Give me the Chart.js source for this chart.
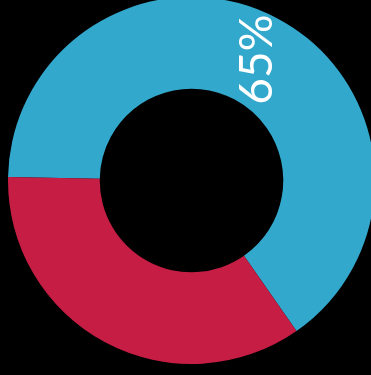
<!DOCTYPE html>
<html>
<head>
<meta charset="utf-8">
<script src="https://cdn.jsdelivr.net/npm/chart.js@4"></script>
<style>
  html, body { margin: 0; padding: 0; background: #000; overflow: hidden; }
  body { width: 371px; height: 375px; position: relative; }
  #wrap { position: absolute; left: 8px; top: -3px; width: 367px; height: 367px; }
</style>
</head>
<body>
<div id="wrap"><canvas id="share-chart" width="367" height="367"></canvas></div>
<script>
var categories = ["Yes", "No"];
var shares = [65, 35];
var colors = ["#33a8cd", "#c61d44"];

// white percentage label, set upright across the ring near the top right
var shareLabel = {
  id: "shareLabel",
  afterDatasetsDraw: function (chart) {
    var arc = chart.getDatasetMeta(0).data[0];
    var r = (arc.innerRadius + arc.outerRadius) / 2;
    var a = 28.5 * Math.PI / 180;
    var x = arc.x + r * Math.sin(a);
    var y = arc.y - r * Math.cos(a);
    var c = chart.ctx;
    c.save();
    c.translate(x, y);
    c.rotate(-Math.PI / 2);
    c.fillStyle = "#ffffff";
    c.font = "400 46px Lato";
    c.textAlign = "center";
    c.textBaseline = "middle";
    c.fillText(shares[0] + "%", 0, 0);
    c.restore();
  },
};

new Chart(document.getElementById("share-chart").getContext("2d"), {
  type: "doughnut",
  data: {
    labels: categories,
    datasets: [
      {
        data: shares,
        backgroundColor: colors,
        borderWidth: 0,
      },
    ],
  },
  options: {
    responsive: false,
    animation: false,
    rotation: -88.9,
    cutout: "50%",
    layout: { padding: 0 },
    plugins: {
      legend: { display: false },
      tooltip: { enabled: false },
    },
  },
  plugins: [shareLabel],
});
</script>
</body>
</html>
